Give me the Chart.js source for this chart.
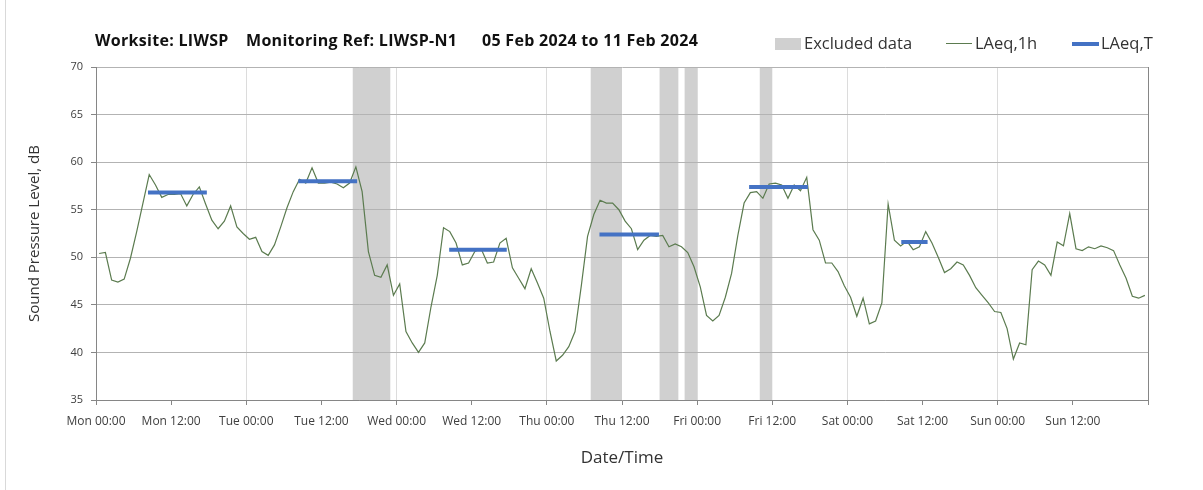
<!DOCTYPE html>
<html>
<head>
<meta charset="utf-8">
<script src="https://cdn.jsdelivr.net/npm/chart.js@4.4.1/dist/chart.umd.min.js"></script>
<style>
body{margin:0;background:#fff;font-family:"Open Sans",sans-serif;}
#marco{position:relative;width:1203px;height:490px;overflow:hidden;}
#borde{position:absolute;left:5px;top:0;width:1px;height:490px;background:#d9d9d9;}
.titulo{position:absolute;top:29px;line-height:22px;font-size:16px;font-weight:700;color:#111;white-space:nowrap;letter-spacing:0.3px;}
.leyenda{position:absolute;top:32px;line-height:22px;font-size:16.5px;color:#333;white-space:nowrap;}
.marca{position:absolute;}
</style>
</head>
<body>
<div id="marco">
  <canvas id="graficoRuido" width="1203" height="490"></canvas>
  <div id="borde"></div>
  <div class="titulo" style="left:95px">Worksite: LIWSP</div>
  <div class="titulo" style="left:246px">Monitoring Ref: LIWSP-N1</div>
  <div class="titulo" style="left:482px">05 Feb 2024 to 11 Feb 2024</div>

  <div class="marca" style="left:775px;top:38px;width:26px;height:12px;background:#d0d0d0"></div>
  <div class="leyenda" style="left:804px">Excluded data</div>
  <div class="marca" style="left:946px;top:43px;width:26px;height:1.3px;background:#5b7b4f"></div>
  <div class="leyenda" style="left:975px">LAeq,1h</div>
  <div class="marca" style="left:1072px;top:42px;width:27px;height:3.5px;background:#4472c4"></div>
  <div class="leyenda" style="left:1101px">LAeq,T</div>
</div>
<script>
// niveles horarios LAeq,1h (dB), lunes 00:00 a domingo 23:00
var laeq1h = [
  50.4, 50.5, 47.6, 47.4, 47.7, 49.9, 52.7, 55.7, 58.7, 57.6, 56.3, 56.6,
  56.6, 56.7, 55.4, 56.6, 57.4, 55.6, 53.9, 53.0, 53.8, 55.4, 53.2, 52.5,
  51.9, 52.1, 50.6, 50.2, 51.3, 53.2, 55.2, 56.9, 58.2, 57.8, 59.4, 57.8,
  57.8, 57.9, 57.7, 57.3, 57.8, 59.5, 56.9, 50.6, 48.1, 47.9, 49.2, 46.0,
  47.2, 42.2, 41.0, 40.0, 41.0, 44.8, 48.1, 53.1, 52.7, 51.5, 49.2, 49.4,
  50.6, 50.9, 49.4, 49.5, 51.5, 52.0, 48.9, 47.8, 46.7, 48.8, 47.3, 45.7,
  42.2, 39.1, 39.7, 40.6, 42.2, 47.0, 52.2, 54.5, 56.0, 55.7, 55.7, 55.0,
  53.8, 53.0, 50.8, 51.8, 52.3, 52.2, 52.3, 51.1, 51.4, 51.1, 50.5, 49.0,
  46.9, 43.9, 43.3, 43.9, 45.8, 48.3, 52.3, 55.7, 56.8, 56.9, 56.2, 57.7,
  57.8, 57.6, 56.2, 57.6, 57.0, 58.4, 52.9, 51.8, 49.4, 49.4, 48.5, 47.0,
  45.8, 43.8, 45.7, 43.0, 43.3, 45.2, 55.6, 51.8, 51.2, 51.7, 50.8, 51.1,
  52.7, 51.5, 50.0, 48.4, 48.8, 49.5, 49.2, 48.1, 46.8, 46.0, 45.2, 44.3,
  44.2, 42.5, 39.3, 41.0, 40.8, 48.7, 49.6, 49.2, 48.1, 51.6, 51.2, 54.6,
  50.9, 50.7, 51.1, 50.9, 51.2, 51.0, 50.7, 49.2, 47.8, 45.9, 45.7, 46.0
];

// periodos LAeq,T (horas desde lunes 00:00)
var periodoInicio = [8.3, 32.3, 56.4, 80.4, 104.3, 128.6];
var periodoFin    = [17.7, 41.7, 65.6, 89.9, 113.7, 132.8];
var laeqT         = [56.8, 58.0, 50.8, 52.4, 57.4, 51.6];

// datos excluidos (horas)
var excluidoInicio = [41, 79, 90, 94, 106];
var excluidoFin    = [47, 84, 93, 96, 108];

var etiquetasX = ['Mon 00:00', 'Mon 12:00', 'Tue 00:00', 'Tue 12:00', 'Wed 00:00', 'Wed 12:00',
  'Thu 00:00', 'Thu 12:00', 'Fri 00:00', 'Fri 12:00', 'Sat 00:00', 'Sat 12:00',
  'Sun 00:00', 'Sun 12:00', ''];

var bandasExcluidas = {
    id: 'bandasExcluidas',
    beforeDraw: function(chart){
        var x = chart.scales.x;
        var y = chart.scales.y;
        var ctx = chart.ctx;
        ctx.save();
        ctx.fillStyle = '#d0d0d0';
        for (var i = 0; i < excluidoInicio.length; i++) {
            var x1 = x.getPixelForValue(excluidoInicio[i]);
            var x2 = x.getPixelForValue(excluidoFin[i]);
            ctx.fillRect(x1, y.top, x2 - x1, y.bottom - y.top);
        }
        ctx.restore();
    }
};

function crearGrafico(){
    var horas = [];
    for (var i = 0; i < laeq1h.length; i++) {
        horas.push({x: i + 0.5, y: laeq1h[i]});
    }
    var tramos = [];
    for (var j = 0; j < laeqT.length; j++) {
        tramos.push({x: periodoInicio[j], y: laeqT[j]});
        tramos.push({x: periodoFin[j], y: laeqT[j]});
        tramos.push({x: periodoFin[j] + 0.2, y: null});
    }

    var ctx = document.getElementById('graficoRuido');
    var myChart = new Chart(ctx, {
        type: 'line',
        data: {
            datasets: [{
                label: 'LAeq,T',
                data: tramos,
                borderColor: '#4472c4',
                borderWidth: 4,
                borderCapStyle: 'butt',
                pointRadius: 0,
                spanGaps: false,
                order: 0
            }, {
                label: 'LAeq,1h',
                data: horas,
                borderColor: '#5b7b4f',
                borderWidth: 1.2,
                pointRadius: 0,
                tension: 0,
                order: 1
            }]
        },
        options: {
            responsive: false,
            animation: false,
            devicePixelRatio: 1,
            layout: { padding: { top: 67, right: 55, bottom: 0, left: 0 } },
            plugins: {
                legend: { display: false },
                tooltip: { enabled: false }
            },
            scales: {
                x: {
                    type: 'linear',
                    min: 0,
                    max: 168,
                    afterFit: function(s){ s.height = 90; },
                    ticks: {
                        stepSize: 12,
                        autoSkip: false,
                        maxRotation: 0,
                        padding: 9,
                        color: '#404040',
                        font: { family: 'Open Sans', size: 12 },
                        callback: function(v){ return etiquetasX[Math.round(v / 12)]; }
                    },
                    grid: {
                        color: function(c){
                            if (c.tick.value === 168) return '#868686';
                            return c.tick.value % 24 === 0 ? '#dcdcdc' : 'rgba(0,0,0,0)';
                        },
                        tickColor: '#868686',
                        tickLength: 5
                    },
                    border: { color: '#868686' },
                    title: {
                        display: true,
                        text: 'Date/Time',
                        color: '#333',
                        font: { family: 'Open Sans', size: 17 },
                        padding: { top: 0, bottom: 22 }
                    }
                },
                y: {
                    min: 35,
                    max: 70,
                    afterFit: function(s){ s.width = 96; },
                    ticks: {
                        stepSize: 5,
                        padding: 8,
                        color: '#404040',
                        font: { family: 'Open Sans', size: 11 }
                    },
                    grid: {
                        color: '#b3b3b3',
                        tickColor: '#868686',
                        tickLength: 5
                    },
                    border: { color: '#868686' },
                    title: {
                        display: true,
                        text: 'Sound Pressure Level, dB',
                        color: '#333',
                        font: { family: 'Open Sans', size: 15 },
                        padding: { top: 26, bottom: 0 }
                    }
                }
            }
        },
        plugins: [bandasExcluidas]
    });
}
crearGrafico();
</script>
</body>
</html>
